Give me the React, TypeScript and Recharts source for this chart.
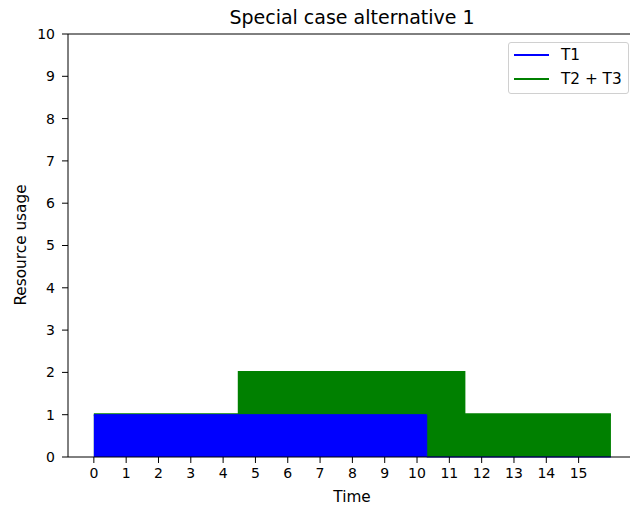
import React from "react";
import { ComposedChart, Area, XAxis, YAxis } from "recharts";

const times = [0, 4.5, 10.3, 11.45, 16];
const t1Values = [1, 1, 0, 0, 0];
const t23Values = [1, 2, 2, 1, 1];
const xTicks = [0, 1, 2, 3, 4, 5, 6, 7, 8, 9, 10, 11, 12, 13, 14, 15];
const yTicks = [0, 1, 2, 3, 4, 5, 6, 7, 8, 9, 10];
const seriesNames = ["T1", "T2 + T3"];
const seriesColors = ["#0000ff", "#008000"];

const data = times.map((t, i) => ({ t, t1: t1Values[i], t23: t23Values[i] }));

const FONT = "DejaVu Sans, sans-serif";

const LegendBox = () => (
  <div
    style={{
      position: "absolute",
      left: 508,
      top: 42,
      width: 121,
      height: 52,
      border: "1px solid #d0d0d0",
      borderRadius: 3,
      background: "rgba(255,255,255,0.8)",
      fontFamily: FONT,
      fontSize: 15.3,
      color: "#000",
      boxSizing: "border-box",
    }}
  >
    {seriesNames.map((name, i) => (
      <div
        key={name}
        style={{ position: "absolute", left: 5, top: 2 + i * 24, height: 20, display: "flex", alignItems: "center" }}
      >
        <div style={{ width: 35, height: 2, background: seriesColors[i] }} />
        <span style={{ marginLeft: 12, whiteSpace: "nowrap" }}>{name}</span>
      </div>
    ))}
  </div>
);

export default function App() {
  return (
    <div style={{ position: "absolute", left: 0, top: 0, width: 630, height: 511, background: "#fff" }}>
      <ComposedChart
        width={630}
        height={511}
        data={data}
        margin={{ top: 34, right: 0, left: 8, bottom: 24 }}
      >
        <XAxis
          dataKey="t"
          type="number"
          domain={[-0.8, 16.59]}
          ticks={xTicks}
          interval={0}
          allowDataOverflow
          stroke="#000"
          tickSize={6}
          tickMargin={5}
          height={30}
          tick={{ fill: "#000", fontSize: 14, fontFamily: FONT }}
        />
        <YAxis
          type="number"
          domain={[0, 10]}
          ticks={yTicks}
          interval={0}
          stroke="#000"
          tickSize={6}
          tickMargin={7}
          width={60}
          tick={{ fill: "#000", fontSize: 14, fontFamily: FONT }}
        />
        <Area
          type="stepAfter"
          dataKey="t23"
          name={seriesNames[1]}
          stroke={seriesColors[1]}
          strokeWidth={3}
          fill={seriesColors[1]}
          fillOpacity={1}
          isAnimationActive={false}
          dot={false}
          activeDot={false}
        />
        <Area
          type="stepAfter"
          dataKey="t1"
          name={seriesNames[0]}
          stroke={seriesColors[0]}
          strokeWidth={1}
          fill={seriesColors[0]}
          fillOpacity={1}
          isAnimationActive={false}
          dot={false}
          activeDot={false}
        />
        <line x1={68} y1={34} x2={630} y2={34} stroke="#000" strokeWidth={1} />
        <text x={352} y={24} textAnchor="middle" fontFamily={FONT} fontSize={19} fill="#000">
          Special case alternative 1
        </text>
        <text x={352} y={502} textAnchor="middle" fontFamily={FONT} fontSize={15.3} fill="#000">
          Time
        </text>
        <text
          x={26}
          y={245}
          textAnchor="middle"
          fontFamily={FONT}
          fontSize={15.3}
          fill="#000"
          transform="rotate(-90 26 245)"
        >
          Resource usage
        </text>
      </ComposedChart>
      <LegendBox />
    </div>
  );
}
